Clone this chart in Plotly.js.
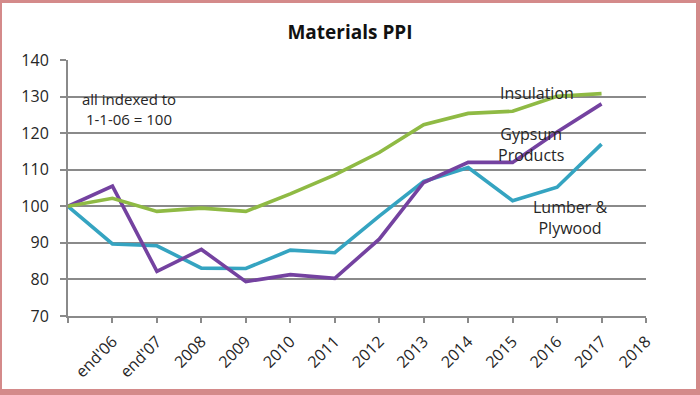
<!DOCTYPE html>
<html>
<head>
<meta charset="utf-8">
<script src="https://cdn.plot.ly/plotly-3.0.1.min.js"></script>
<style>
  html, body { margin: 0; padding: 0; background: #ffffff; }
  #wrap { position: relative; width: 700px; height: 395px; overflow: hidden; }
  #chart { position: absolute; left: 0; top: 0; width: 700px; height: 395px; }
  #frame { position: absolute; left: 0; top: 0; width: 700px; height: 395px; box-sizing: border-box;
           border-style: solid; border-color: #d48a8a; border-width: 3px 4px 6px 2px; pointer-events: none; }
</style>
</head>
<body>
<div id="wrap">
  <div id="chart"></div>
  <div id="frame"></div>
</div>
<script>
// Data points: start (1-1-06) then year ends
const periods = ["1-1-06", "end'06", "end'07", "2008", "2009", "2010", "2011", "2012", "2013", "2014", "2015", "2016", "2017"];
// Axis tick labels (one per tick after the start)
const tickLabels = ["end'06", "end'07", "2008", "2009", "2010", "2011", "2012", "2013", "2014", "2015", "2016", "2017", "2018"];

const insulation = [100, 102.2, 98.6, 99.5, 98.6, 103.4, 108.6, 114.7, 122.3, 125.4, 126.0, 130.1, 130.8];
const gypsum     = [100, 105.5, 82.2, 88.2, 79.4, 81.3, 80.3, 91.0, 106.5, 112.0, 112.0, 120.3, 128.0];
const lumber     = [100, 89.7, 89.2, 83.1, 83.0, 88.0, 87.3, 97.3, 106.8, 110.6, 101.5, 105.2, 117.0];

const xIdx = periods.map((p, i) => i);
const tickVals = tickLabels.map((t, i) => i + 1);
const allTicks = [0].concat(tickVals);

const lineW = 3.6;
const traces = [
  { x: xIdx, y: lumber, mode: 'lines', line: { color: '#35a4c1', width: lineW }, name: 'Lumber & Plywood' },
  { x: xIdx, y: gypsum, mode: 'lines', line: { color: '#7442a0', width: lineW }, name: 'Gypsum Products' },
  { x: xIdx, y: insulation, mode: 'lines', line: { color: '#8fba44', width: lineW }, name: 'Insulation' }
];

const font = "'Open Sans', 'Noto Sans', 'DejaVu Sans', sans-serif";
const txt = '#262626';
const layout = {
  width: 700, height: 395,
  margin: { l: 68, r: 54, t: 60, b: 79 },
  paper_bgcolor: '#ffffff', plot_bgcolor: '#ffffff',
  showlegend: false,
  font: { family: font, color: txt },
  title: { text: '<b>Materials PPI</b>', x: 0.5, xanchor: 'center', y: 0.917, yanchor: 'middle',
           font: { family: font, size: 19, color: '#111111' } },
  xaxis: {
    range: [0, 13], tickmode: 'array', tickvals: allTicks,
    ticktext: [''].concat(tickLabels), tickangle: -45,
    showgrid: false, zeroline: false,
    showline: true, linecolor: '#8a8a8a', linewidth: 2,
    ticks: 'outside', ticklen: 5, tickcolor: '#8a8a8a', tickwidth: 2,
    ticklabelstandoff: 3,
    tickfont: { family: font, size: 16, color: txt }
  },
  yaxis: {
    range: [70, 140], tickmode: 'array', tickvals: [70, 80, 90, 100, 110, 120, 130, 140],
    showgrid: true, gridcolor: '#8a8a8a', gridwidth: 2, zeroline: false,
    showline: true, linecolor: '#8a8a8a', linewidth: 2,
    ticks: 'outside', ticklen: 6, tickcolor: '#8a8a8a', tickwidth: 2,
    ticklabelstandoff: 8,
    tickfont: { family: font, size: 16, color: txt }
  },
  annotations: [
    { xref: 'paper', yref: 'paper', x: 0.02, y: 0.809, xanchor: 'left', yanchor: 'middle', align: 'left',
      text: 'all indexed to<br> 1-1-06 = 100', showarrow: false, font: { family: font, size: 15, color: txt } },
    { xref: 'x', yref: 'y', x: 10.55, y: 131, xanchor: 'center', yanchor: 'middle',
      text: 'Insulation', showarrow: false, font: { family: font, size: 16, color: txt } },
    { xref: 'x', yref: 'y', x: 10.41, y: 116.8, xanchor: 'center', yanchor: 'middle', align: 'center',
      text: 'Gypsum<br>Products', showarrow: false, font: { family: font, size: 16, color: txt } },
    { xref: 'x', yref: 'y', x: 11.29, y: 96.8, xanchor: 'center', yanchor: 'middle', align: 'center',
      text: 'Lumber &amp;<br>Plywood', showarrow: false, font: { family: font, size: 16, color: txt } }
  ]
};

Plotly.newPlot('chart', traces, layout, { staticPlot: true, displayModeBar: false });
</script>
</body>
</html>
